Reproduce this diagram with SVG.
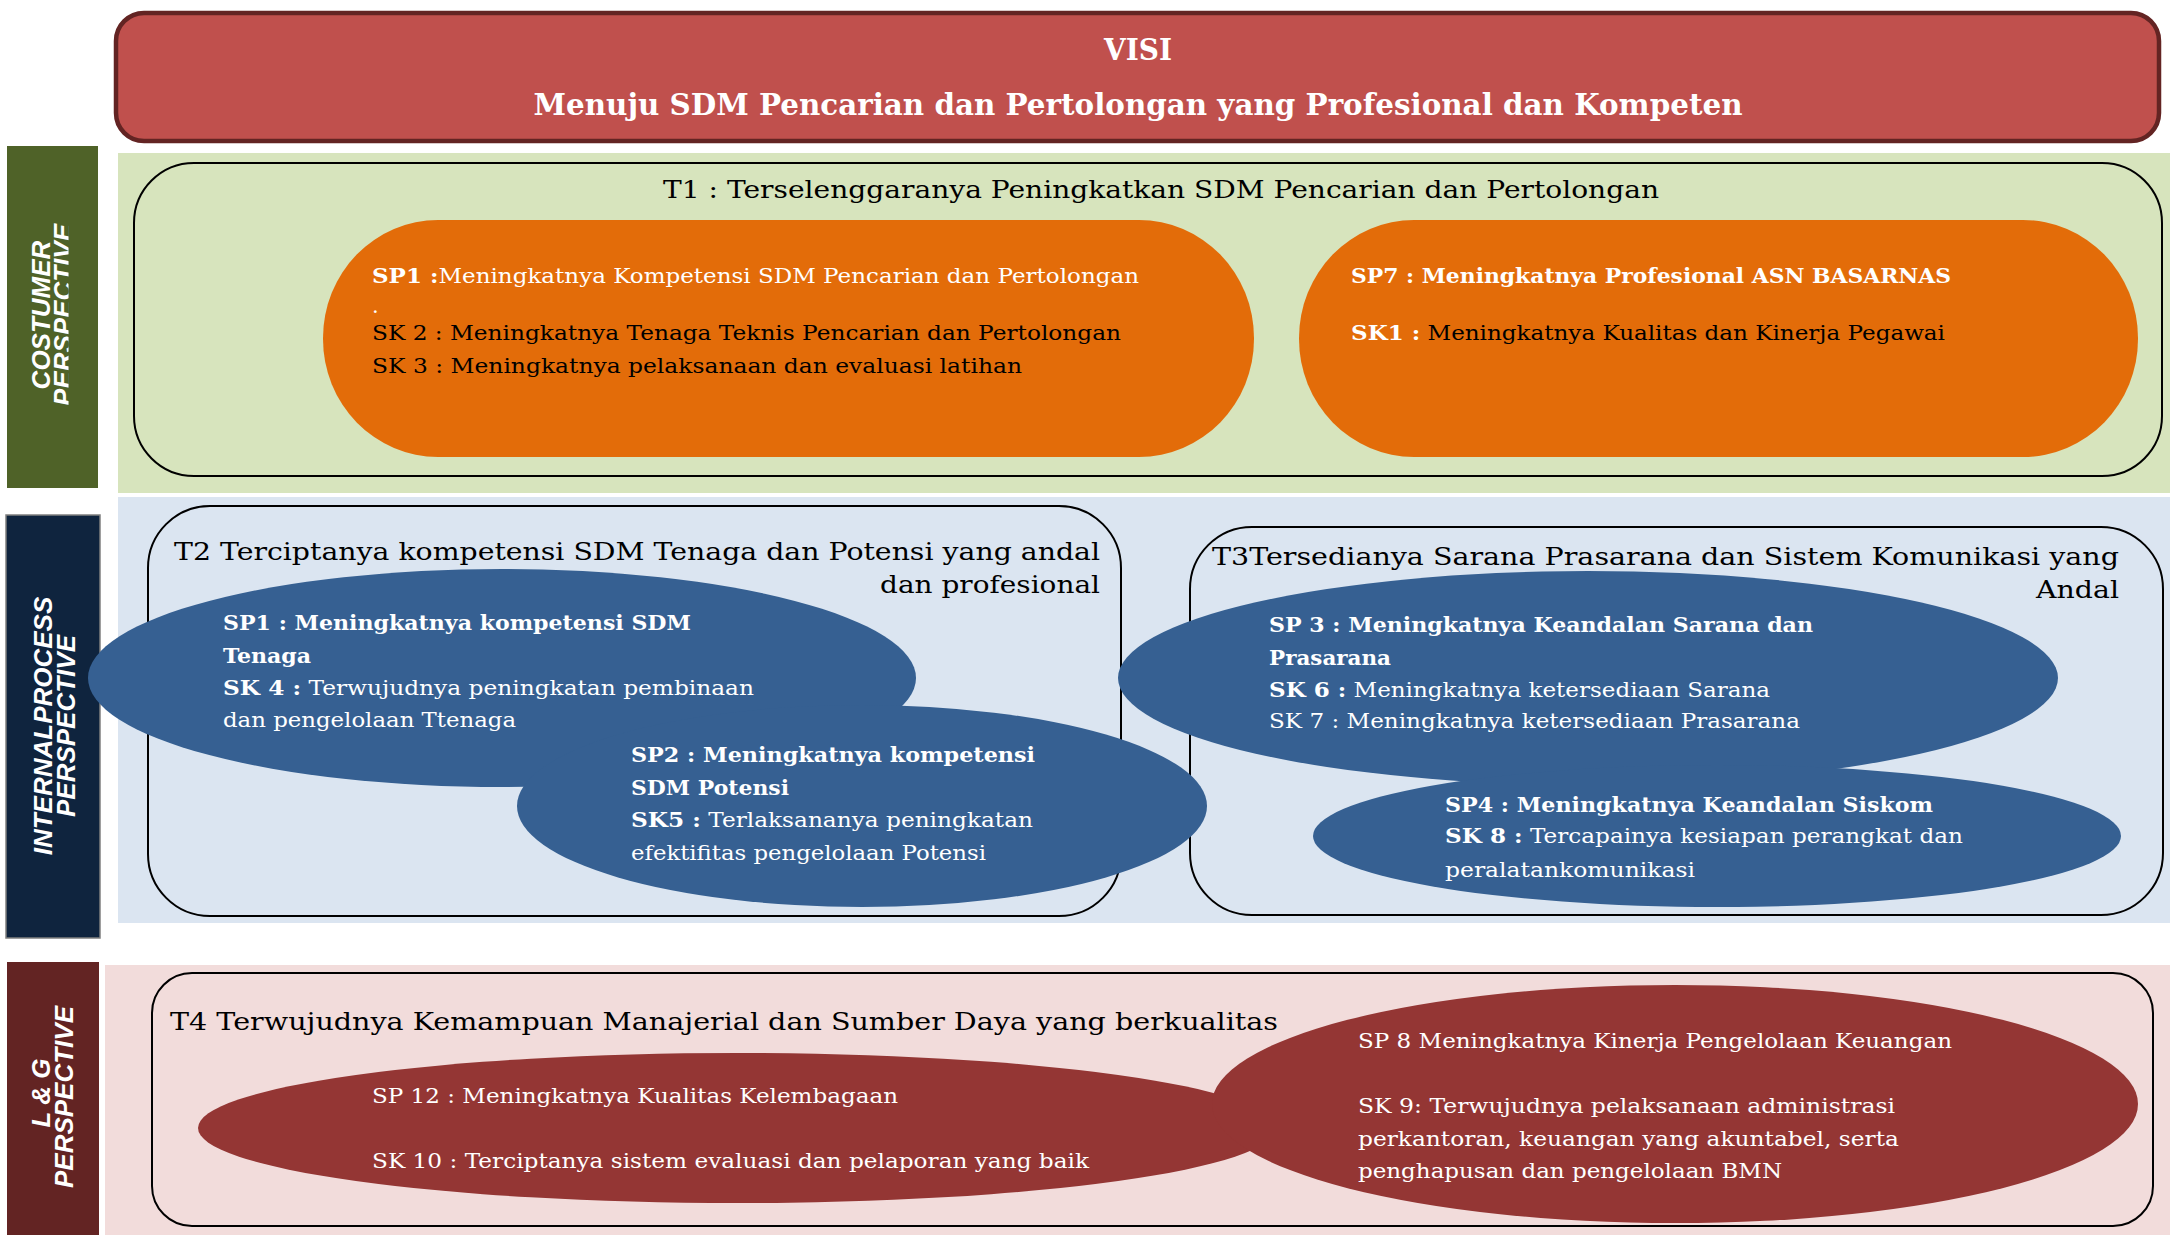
<svg xmlns="http://www.w3.org/2000/svg" width="2170" height="1235" viewBox="0 0 2170 1235">
<defs>
<style>
.lbl{font-family:"Liberation Sans",Arial,sans-serif;font-weight:bold;font-style:italic;font-size:26px;fill:#fff;text-anchor:middle}
.vb{font-family:"DejaVu Serif","Liberation Serif",serif;font-weight:bold;font-size:29px;fill:#fff;text-anchor:middle}
.ttl{font-family:"DejaVu Serif","Liberation Serif",serif;font-size:25px;fill:#000}
.tx{font-family:"DejaVu Serif","Liberation Serif",serif;font-size:21px}
.w{fill:#fff}
.k{fill:#000}
.b{font-weight:bold}
.tbox{fill:none;stroke:#000;stroke-width:2}
.pill{fill:#E36C09}
.blue{fill:#366092}
.red{fill:#943634}
</style>
<clipPath id="clipCust"><rect x="0" y="140" width="68.5" height="360"/></clipPath>
</defs>

<g id="panels">
<rect x="118" y="153" width="2052" height="340" fill="#D7E4BD"/>
<rect x="118" y="497" width="2052" height="426" fill="#DBE5F1"/>
<rect x="105" y="965" width="2065" height="270" fill="#F2DCDB"/>
</g>

<g id="label-customer">
<rect x="7" y="146" width="91" height="342" fill="#4F6228"/>
<text class="lbl" transform="translate(50,315) rotate(-90)">COSTUMER</text>
<g clip-path="url(#clipCust)"><text class="lbl" transform="translate(72,315) rotate(-90)">PERSPECTIVE</text></g>
</g>

<g id="label-internal">
<rect x="6" y="515" width="94" height="423" fill="#0F243E" stroke="#7F7F7F" stroke-width="1.5"/>
<text class="lbl" transform="translate(52,726) rotate(-90)">INTERNALPROCESS</text>
<text class="lbl" transform="translate(75,726) rotate(-90)">PERSPECTIVE</text>
</g>

<g id="label-lg">
<rect x="7" y="962" width="92" height="273" fill="#632423"/>
<text class="lbl" transform="translate(50,1093) rotate(-90)">L &amp; G</text>
<text class="lbl" transform="translate(73,1097) rotate(-90)">PERSPECTIVE</text>
</g>

<g id="visi">
<rect x="116" y="13" width="2043" height="128" rx="28" fill="#C0504D" stroke="#632423" stroke-width="4.5"/>
<text class="vb" x="1138" y="60" textLength="68" lengthAdjust="spacingAndGlyphs">VISI</text>
<text class="vb" x="1138" y="115" textLength="1209" lengthAdjust="spacingAndGlyphs">Menuju SDM Pencarian dan Pertolongan yang Profesional dan Kompeten</text>
</g>

<g id="t1">
<rect class="tbox" x="134" y="163" width="2028" height="313" rx="60"/>
<text class="ttl" x="663" y="198" textLength="996" lengthAdjust="spacingAndGlyphs">T1 : Terselenggaranya Peningkatkan SDM Pencarian dan Pertolongan</text>
</g>

<g id="t2">
<rect class="tbox" x="148" y="506" width="973" height="410" rx="62"/>
<text class="ttl" x="174" y="560" textLength="926" lengthAdjust="spacingAndGlyphs">T2 Terciptanya kompetensi SDM Tenaga dan Potensi yang andal</text>
<text class="ttl" x="1100" y="593" text-anchor="end" textLength="220" lengthAdjust="spacingAndGlyphs">dan profesional</text>
</g>

<g id="t3">
<rect class="tbox" x="1190" y="527" width="973" height="388" rx="62"/>
<text class="ttl" x="1212" y="565" textLength="907" lengthAdjust="spacingAndGlyphs">T3Tersedianya Sarana Prasarana dan Sistem Komunikasi yang</text>
<text class="ttl" x="2119" y="598" text-anchor="end" textLength="83" lengthAdjust="spacingAndGlyphs">Andal</text>
</g>

<g id="t4">
<rect class="tbox" x="152" y="973" width="2001" height="253" rx="40"/>
<text class="ttl" x="170" y="1030" textLength="1108" lengthAdjust="spacingAndGlyphs">T4 Terwujudnya Kemampuan Manajerial dan Sumber Daya yang berkualitas</text>
</g>

<g id="sp1-customer">
<rect class="pill" x="323" y="220" width="931" height="237" rx="115" ry="118"/>
<text class="tx w" x="372" y="283" textLength="767" lengthAdjust="spacingAndGlyphs"><tspan class="b">SP1 :</tspan>Meningkatnya Kompetensi SDM Pencarian dan Pertolongan</text>
<text class="tx w" x="372" y="313">.</text>
<text class="tx k" x="372" y="340" textLength="749" lengthAdjust="spacingAndGlyphs">SK 2 : Meningkatnya Tenaga Teknis Pencarian dan Pertolongan</text>
<text class="tx k" x="372" y="373" textLength="650" lengthAdjust="spacingAndGlyphs">SK 3 : Meningkatnya pelaksanaan dan evaluasi latihan</text>
</g>

<g id="sp7-customer">
<rect class="pill" x="1299" y="220" width="839" height="237" rx="115" ry="118"/>
<text class="tx w b" x="1351" y="283" textLength="600" lengthAdjust="spacingAndGlyphs">SP7 : Meningkatnya Profesional ASN BASARNAS</text>
<text class="tx" x="1351" y="340" textLength="594" lengthAdjust="spacingAndGlyphs"><tspan class="b w">SK1 :</tspan><tspan class="k"> Meningkatnya Kualitas dan Kinerja Pegawai</tspan></text>
</g>

<g id="sp1-internal">
<ellipse class="blue" cx="502" cy="678" rx="414" ry="109"/>
<text class="tx w b" x="223" y="630" textLength="468" lengthAdjust="spacingAndGlyphs">SP1 : Meningkatnya kompetensi SDM</text>
<text class="tx w b" x="223" y="663" textLength="88" lengthAdjust="spacingAndGlyphs">Tenaga</text>
<text class="tx w" x="223" y="695" textLength="531" lengthAdjust="spacingAndGlyphs"><tspan class="b">SK 4 :</tspan> Terwujudnya peningkatan pembinaan</text>
<text class="tx w" x="223" y="727" textLength="293" lengthAdjust="spacingAndGlyphs">dan pengelolaan Ttenaga</text>
</g>

<g id="sp2-internal">
<ellipse class="blue" cx="862" cy="806" rx="345" ry="101"/>
<text class="tx w b" x="631" y="762" textLength="404" lengthAdjust="spacingAndGlyphs">SP2 : Meningkatnya kompetensi</text>
<text class="tx w b" x="631" y="795" textLength="158" lengthAdjust="spacingAndGlyphs">SDM Potensi</text>
<text class="tx w" x="631" y="827" textLength="402" lengthAdjust="spacingAndGlyphs"><tspan class="b">SK5 :</tspan> Terlaksananya peningkatan</text>
<text class="tx w" x="631" y="860" textLength="355" lengthAdjust="spacingAndGlyphs">efektifitas pengelolaan Potensi</text>
</g>

<g id="sp3-internal">
<ellipse class="blue" cx="1588" cy="678" rx="470" ry="107"/>
<text class="tx w b" x="1269" y="632" textLength="544" lengthAdjust="spacingAndGlyphs">SP 3 : Meningkatnya Keandalan Sarana dan</text>
<text class="tx w b" x="1269" y="665" textLength="122" lengthAdjust="spacingAndGlyphs">Prasarana</text>
<text class="tx w" x="1269" y="697" textLength="501" lengthAdjust="spacingAndGlyphs"><tspan class="b">SK 6 :</tspan> Meningkatnya ketersediaan Sarana</text>
<text class="tx w" x="1269" y="728" textLength="531" lengthAdjust="spacingAndGlyphs">SK 7 : Meningkatnya ketersediaan Prasarana</text>
</g>

<g id="sp4-internal">
<ellipse class="blue" cx="1717" cy="836" rx="404" ry="71"/>
<text class="tx w b" x="1445" y="812" textLength="488" lengthAdjust="spacingAndGlyphs">SP4 : Meningkatnya Keandalan Siskom</text>
<text class="tx w" x="1445" y="843" textLength="518" lengthAdjust="spacingAndGlyphs"><tspan class="b">SK 8 :</tspan> Tercapainya kesiapan perangkat dan</text>
<text class="tx w" x="1445" y="877" textLength="250" lengthAdjust="spacingAndGlyphs">peralatankomunikasi</text>
</g>

<g id="sp12-lg">
<ellipse class="red" cx="737" cy="1128" rx="539" ry="75"/>
<text class="tx w" x="372" y="1103" textLength="526" lengthAdjust="spacingAndGlyphs">SP 12 : Meningkatnya Kualitas Kelembagaan</text>
<text class="tx w" x="372" y="1168" textLength="717" lengthAdjust="spacingAndGlyphs">SK 10 : Terciptanya sistem evaluasi dan pelaporan yang baik</text>
</g>

<g id="sp8-lg">
<ellipse class="red" cx="1675" cy="1104" rx="463" ry="119"/>
<text class="tx w" x="1358" y="1048" textLength="594" lengthAdjust="spacingAndGlyphs">SP 8 Meningkatnya Kinerja Pengelolaan Keuangan</text>
<text class="tx w" x="1358" y="1113" textLength="537" lengthAdjust="spacingAndGlyphs">SK 9: Terwujudnya pelaksanaan administrasi</text>
<text class="tx w" x="1358" y="1146" textLength="541" lengthAdjust="spacingAndGlyphs">perkantoran, keuangan yang akuntabel, serta</text>
<text class="tx w" x="1358" y="1178" textLength="424" lengthAdjust="spacingAndGlyphs">penghapusan dan pengelolaan BMN</text>
</g>

<g id="connectors"></g>
</svg>
